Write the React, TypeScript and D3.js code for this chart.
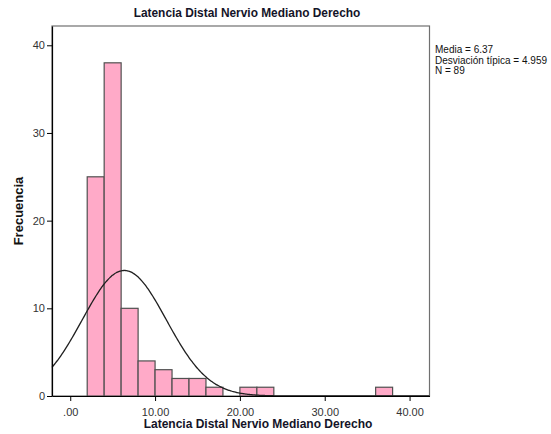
import React, { useEffect, useRef } from 'react';
import * as d3 from 'd3';

// histogram bins (lower edge, width 2) and their frequencies
const binStarts = [2, 4, 6, 8, 10, 12, 14, 16, 20, 22, 36];
const counts = [25, 38, 10, 4, 3, 2, 2, 1, 1, 1, 1];
const binWidth = 2;

const xTicks = [0, 10, 20, 30, 40];
const yTicks = [0, 10, 20, 30, 40];

const mean = 6.37;
const sd = 4.959;
const n = 89;
const statsLines = ['Media = 6.37', 'Desviación típica = 4.959', 'N = 89'];

const title = 'Latencia Distal Nervio Mediano Derecho';
const xTitle = 'Latencia Distal Nervio Mediano Derecho';
const yTitle = 'Frecuencia';

const W = 551;
const H = 434;
const plot = { left: 52, right: 429.5, top: 26, bottom: 396 };

const App = () => {
  const svgRef = useRef<SVGSVGElement>(null);

  useEffect(() => {
    const svg = d3.select(svgRef.current);
    svg.selectAll('*').remove();

    const x = d3.scaleLinear().domain([-2.15, 42.35]).range([plot.left, plot.right]);
    const y = d3.scaleLinear().domain([0, 42.2]).range([plot.bottom, plot.top]);

    // plot frame
    svg.append('rect')
      .attr('x', plot.left)
      .attr('y', plot.top)
      .attr('width', plot.right - plot.left)
      .attr('height', plot.bottom - plot.top)
      .attr('fill', 'white')
      .attr('stroke', '#707070')
      .attr('stroke-width', 1.2);

    // bars
    svg.append('g')
      .selectAll('rect')
      .data(counts)
      .join('rect')
      .attr('x', (_, i) => x(binStarts[i]))
      .attr('y', d => y(d))
      .attr('width', (_, i) => x(binStarts[i] + binWidth) - x(binStarts[i]))
      .attr('height', d => y(0) - y(d))
      .attr('fill', '#ffaac8')
      .attr('stroke', '#505050')
      .attr('stroke-width', 1.2);

    // normal curve scaled to counts
    const [x0, x1] = x.domain();
    const pts = d3.range(0, 301).map(i => {
      const v = x0 + (x1 - x0) * i / 300;
      const z = (v - mean) / sd;
      return [v, n * binWidth / (sd * Math.sqrt(2 * Math.PI)) * Math.exp(-0.5 * z * z)];
    });
    const line = d3.line<number[]>().x(d => x(d[0])).y(d => y(d[1])).curve(d3.curveBasis);
    svg.append('path')
      .attr('d', line(pts))
      .attr('fill', 'none')
      .attr('stroke', '#202020')
      .attr('stroke-width', 1.3);

    // axes
    const xAxis = svg.append('g')
      .attr('transform', `translate(0,${plot.bottom})`)
      .call(d3.axisBottom(x).tickValues(xTicks).tickSize(5).tickSizeOuter(0).tickFormat(d => d === 0 ? '.00' : d3.format('.2f')(d as number)));
    const yAxis = svg.append('g')
      .attr('transform', `translate(${plot.left},0)`)
      .call(d3.axisLeft(y).tickValues(yTicks).tickSize(5).tickSizeOuter(0).tickFormat(d3.format('d')));

    [xAxis, yAxis].forEach(g => {
      g.select('.domain').attr('stroke', '#000').attr('stroke-width', 1.2);
      g.selectAll('.tick line').attr('stroke', '#000');
      g.selectAll('.tick text')
        .attr('font-family', 'Liberation Sans, Arial, sans-serif')
        .attr('font-size', 11)
        .attr('fill', '#333');
    });
    xAxis.selectAll('.tick text').attr('dy', '1.05em');
    yAxis.selectAll('.tick text').attr('x', -7);

    // titles
    svg.append('text')
      .attr('x', 247)
      .attr('y', 17)
      .attr('text-anchor', 'middle')
      .attr('font-family', 'Liberation Sans, Arial, sans-serif')
      .attr('font-weight', 'bold')
      .attr('font-size', 11.9)
      .attr('fill', '#141428')
      .text(title);

    svg.append('text')
      .attr('x', 258)
      .attr('y', 428)
      .attr('text-anchor', 'middle')
      .attr('font-family', 'Liberation Sans, Arial, sans-serif')
      .attr('font-weight', 'bold')
      .attr('font-size', 12)
      .attr('fill', '#141428')
      .text(xTitle);

    svg.append('text')
      .attr('transform', `translate(23,211) rotate(-90)`)
      .attr('text-anchor', 'middle')
      .attr('font-family', 'Liberation Sans, Arial, sans-serif')
      .attr('font-weight', 'bold')
      .attr('font-size', 13)
      .attr('fill', '#111')
      .text(yTitle);

    // stats box text
    svg.append('g')
      .selectAll('text')
      .data(statsLines)
      .join('text')
      .attr('x', 435)
      .attr('y', (_, i) => 53 + i * 10.5)
      .attr('font-family', 'Liberation Sans, Arial, sans-serif')
      .attr('font-size', 10)
      .attr('fill', '#111')
      .text(d => d);
  }, []);

  return (
    <svg
      ref={svgRef}
      width={W}
      height={H}
      style={{ position: 'absolute', left: 0, top: 0, background: 'white' }}
    />
  );
};

export default App;
